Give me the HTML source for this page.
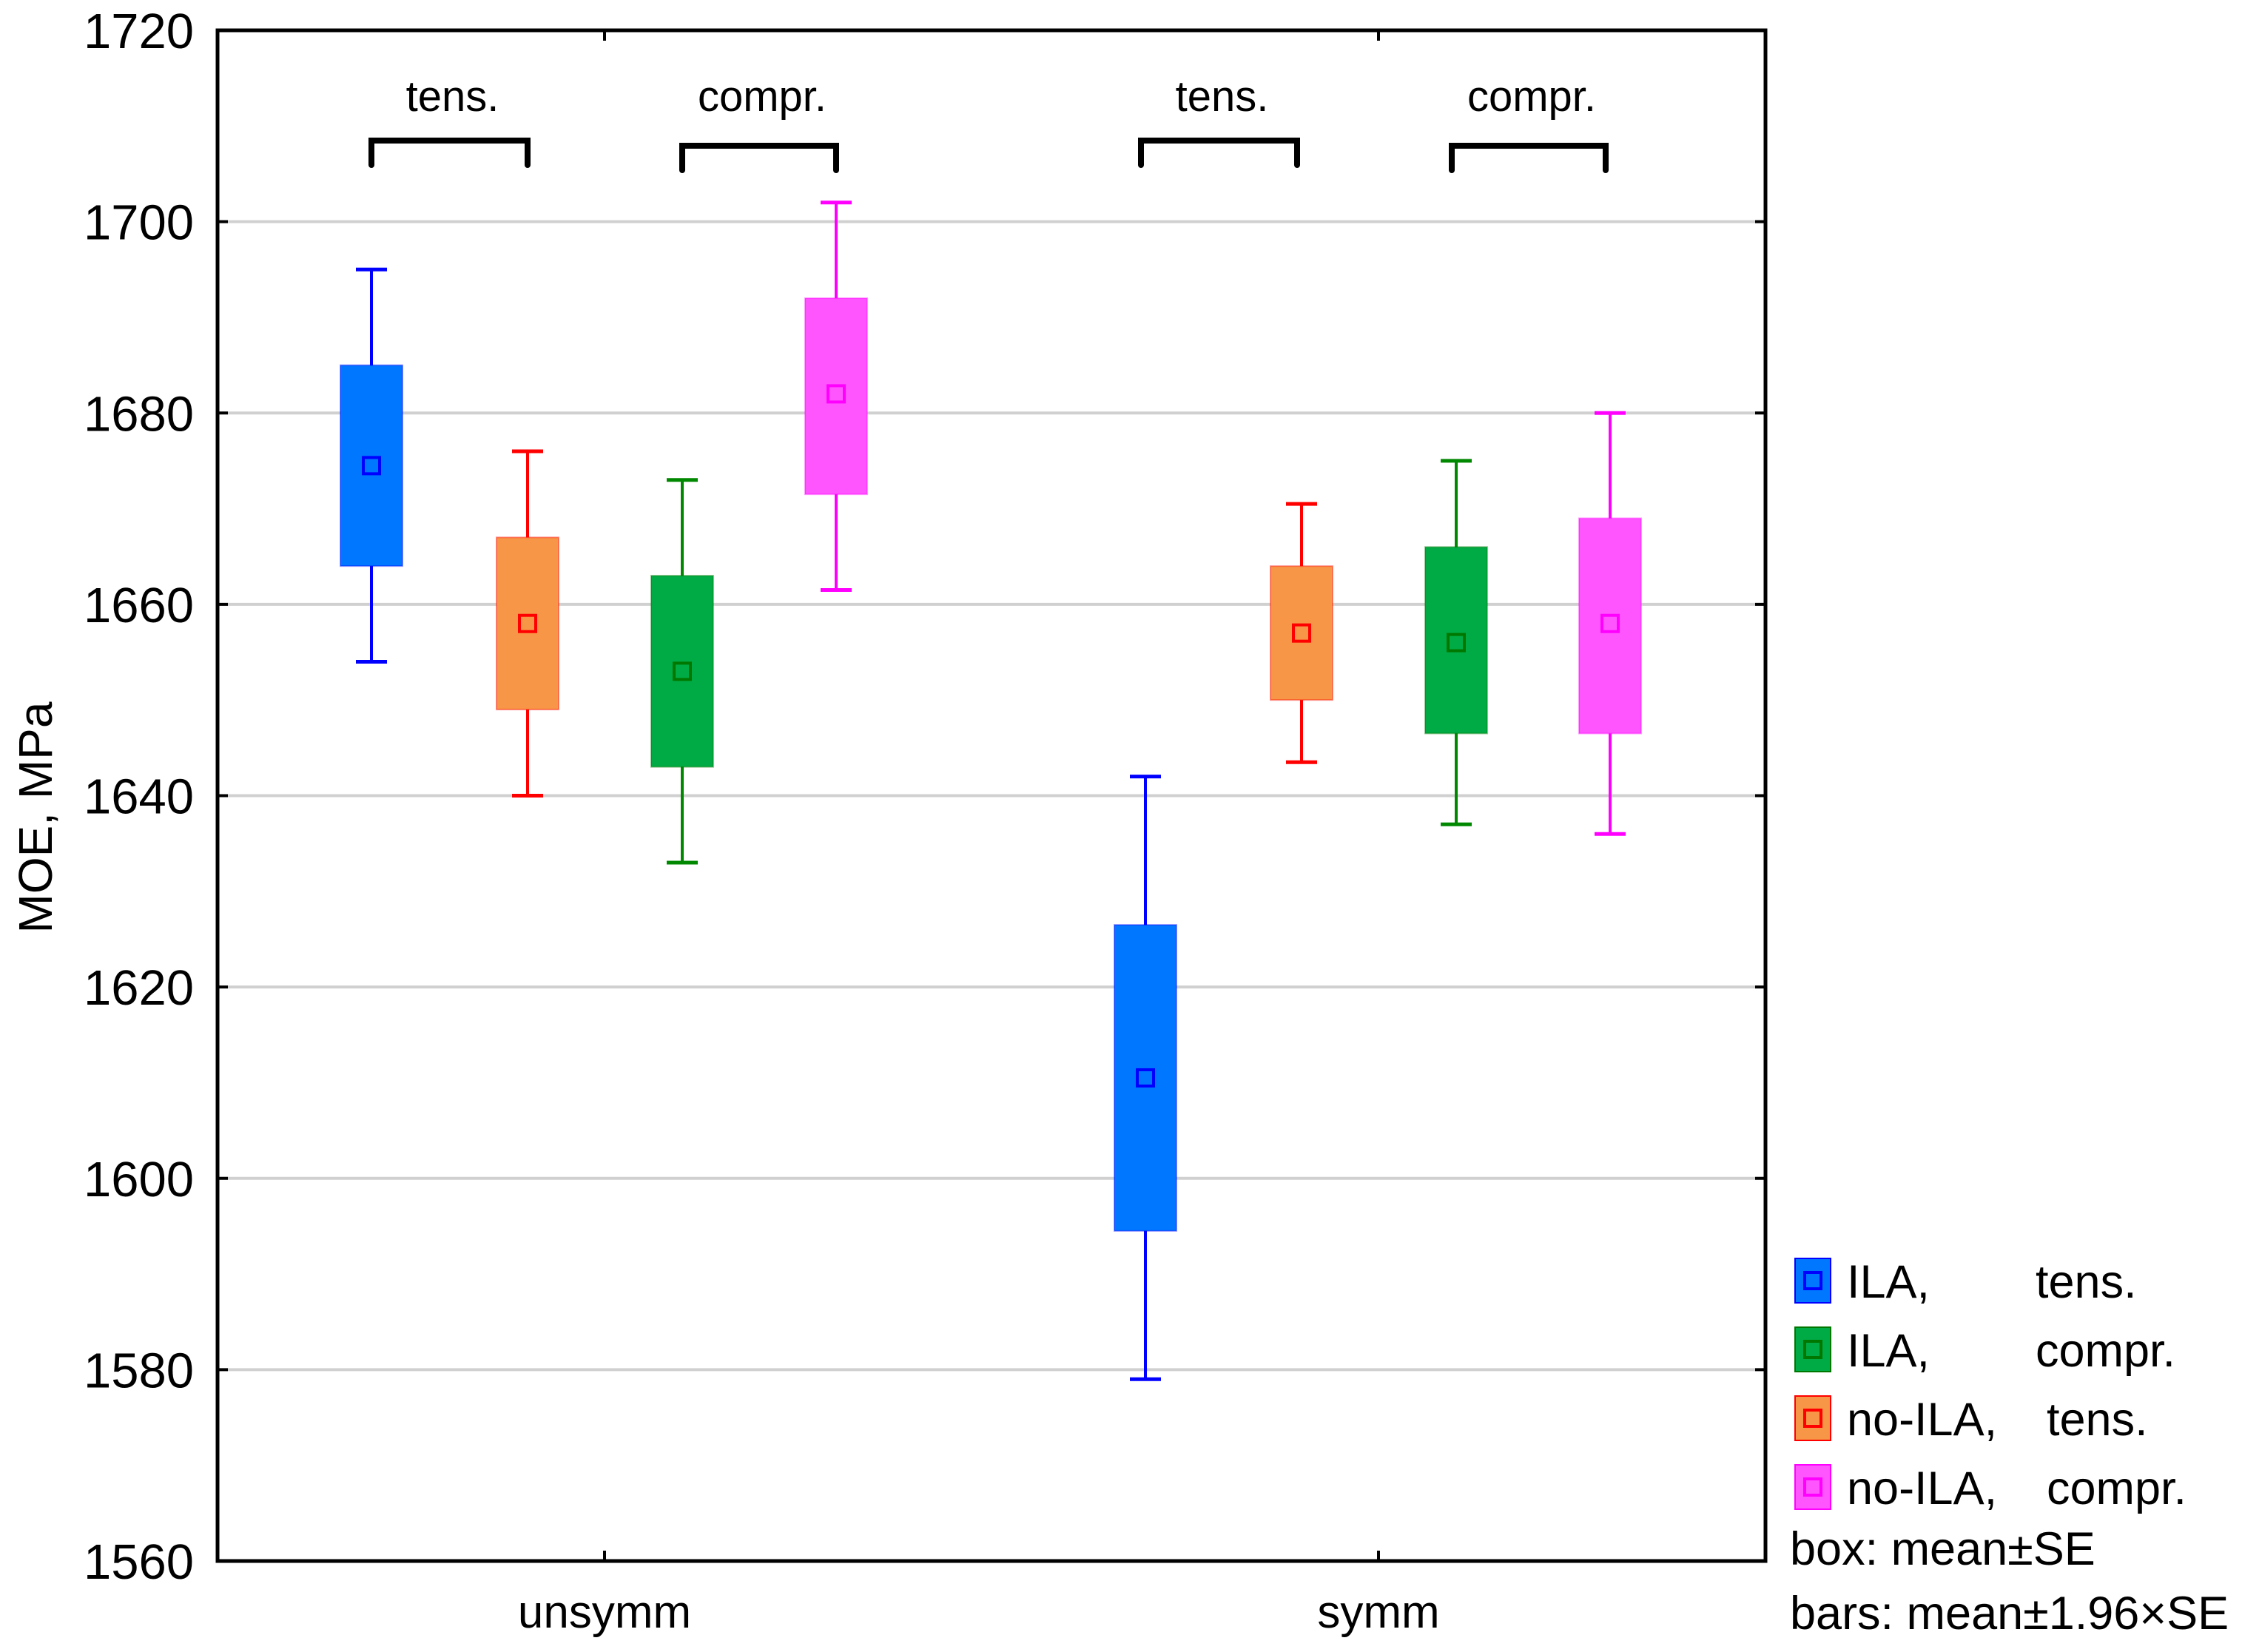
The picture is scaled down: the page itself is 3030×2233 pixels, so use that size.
<!DOCTYPE html>
<html><head><meta charset="utf-8"><style>
html,body{margin:0;padding:0;background:#fff;}
svg{display:block;font-family:"Liberation Sans",Arial,sans-serif;}
</style></head><body>
<svg id="chart" width="3030" height="2233" viewBox="0 0 3030 2233" xmlns="http://www.w3.org/2000/svg">
<g id="grid"></g>
<g id="marks"></g>
<g id="axes"></g>
<g id="legend"></g>
</svg>
<script>
const categories = ["unsymm", "symm"];
const seriesNames = ["ILA, tens.", "no-ILA, tens.", "ILA, compr.", "no-ILA, compr."];
const seriesColors = ["#0077ff", "#f79646", "#00aa44", "#ff55ff"];
const markerColors = ["#0000ff", "#ff0000", "#007700", "#ff00ff"];
const whiskerColors = ["#0000ff", "#ff0000", "#008800", "#ff00ff"];
const means   = [[1674.5, 1658, 1653, 1682], [1610.5, 1657, 1656, 1658]];
const boxLow  = [[1664, 1649, 1643, 1671.5], [1594.5, 1650, 1646.5, 1646.5]];
const boxHigh = [[1685, 1667, 1663, 1692], [1626.5, 1664, 1666, 1669]];
const barLow  = [[1654, 1640, 1633, 1661.5], [1579, 1643.5, 1637, 1636]];
const barHigh = [[1695, 1676, 1673, 1702], [1642, 1670.5, 1675, 1680]];
const yTicks = [1560, 1580, 1600, 1620, 1640, 1660, 1680, 1700, 1720];

const NS = "http://www.w3.org/2000/svg";
const L = 294, R = 2386, T = 41, B = 2110;
const yMin = 1560, yMax = 1720;
function y(v){ return B - (v - yMin) / (yMax - yMin) * (B - T); }
const catX = [817, 1863];
const offsets = [-315, -104, 105, 313];
function x(ci, si){ return catX[ci] + offsets[si]; }
function el(tag, attrs, parent){ const e = document.createElementNS(NS, tag); for (const k in attrs) e.setAttribute(k, attrs[k]); parent.appendChild(e); return e; }

const grid = document.getElementById("grid"), marks = document.getElementById("marks"), axes = document.getElementById("axes"), legend = document.getElementById("legend");

yTicks.forEach(t => {
  if (t !== yMin && t !== yMax) {
    const g = el("line", {x1:L, x2:R, y1:y(t), y2:y(t), stroke:"#d0d0d0", "stroke-width":4}, grid);
    
    
  }
  const tl = el("line", {x1:L, x2:L+14, y1:y(t), y2:y(t), stroke:"#000", "stroke-width":4}, axes);
  
  
  const tr = el("line", {x1:R-14, x2:R, y1:y(t), y2:y(t), stroke:"#000", "stroke-width":4}, axes);
  
  
  const lab = el("text", {x:262, y:y(t)+24, "text-anchor":"end", "font-size":67}, axes);
  lab.textContent = t;
  
  
});

const frame = el("rect", {x:L, y:T, width:R-L, height:B-T, fill:"none", stroke:"#000", "stroke-width":5}, axes);



const bracketShift = [0, -6];
categories.forEach((c, ci) => {
  const t1 = el("line", {x1:catX[ci], x2:catX[ci], y1:B-14, y2:B, stroke:"#000", "stroke-width":4}, axes);
  
  
  const t2 = el("line", {x1:catX[ci], x2:catX[ci], y1:T, y2:T+14, stroke:"#000", "stroke-width":4}, axes);
  
  
  const lab = el("text", {x:catX[ci], y:2200, "text-anchor":"middle", "font-size":62}, axes);
  lab.textContent = c;
  
  

  [[0,1,"tens.",190],[2,3,"compr.",197]].forEach(([a,b,txt,by]) => {
    const xa = x(ci,a)+bracketShift[ci], xb = x(ci,b)+bracketShift[ci];
    const br = el("path", {d:`M${xa},${by+33} V${by} H${xb} V${by+33}`, fill:"none", stroke:"#000", "stroke-width":8, "stroke-linecap":"round"}, axes);
    
    
    const bl = el("text", {x:(xa+xb)/2+4, y:150, "text-anchor":"middle", "font-size":58}, axes);
    bl.textContent = txt;
    
    
  });

  seriesNames.forEach((s, si) => {
    const cx = x(ci, si);
    const wk = el("line", {x1:cx, x2:cx, y1:y(barLow[ci][si]), y2:y(barHigh[ci][si]), stroke:whiskerColors[si], "stroke-width":4}, marks);
    
    
    [barLow[ci][si], barHigh[ci][si]].forEach(v => {
      const cap = el("line", {x1:cx-21, x2:cx+21, y1:y(v), y2:y(v), stroke:whiskerColors[si], "stroke-width":5}, marks);
      
      
    });
    const bx = el("rect", {x:cx-42, y:y(boxHigh[ci][si]), width:84, height:y(boxLow[ci][si])-y(boxHigh[ci][si]), fill:seriesColors[si], stroke:markerColors[si], "stroke-width":2, "stroke-opacity":0.4}, marks);
    
    
    const mk = el("rect", {x:cx-11, y:y(means[ci][si])-11, width:22, height:22, fill:"none", stroke:markerColors[si], "stroke-width":4}, marks);
    
    
  });
});

const yt = el("text", {x:0, y:0, "text-anchor":"middle", "font-size":64, transform:"translate(70,1105) rotate(-90)"}, axes);
yt.textContent = "MOE, MPa";



const legOrder = [0, 2, 1, 3];
const legA = ["ILA,", "ILA,", "no-ILA,", "no-ILA,"];
const legB = ["tens.", "compr.", "tens.", "compr."];
const legBx = [2751, 2751, 2766, 2766];
legOrder.forEach((si, i) => {
  const ry = 1731 + i * 93;
  const sw = el("rect", {x:2426, y:ry-30, width:48, height:60, fill:seriesColors[si], stroke:markerColors[si], "stroke-width":2}, legend);
  
  
  const mk = el("rect", {x:2439, y:ry-11, width:22, height:22, fill:"none", stroke:markerColors[si], "stroke-width":4}, legend);
  
  
  const ta = el("text", {x:2496, y:ry+23, "font-size":63}, legend);
  ta.textContent = legA[i];
  
  
  const tb = el("text", {x:legBx[i], y:ry+23, "font-size":63}, legend);
  tb.textContent = legB[i];
  
  
});
const n1 = el("text", {x:2419, y:2115, "font-size":63}, legend);
n1.textContent = "box: mean±SE";


const n2 = el("text", {x:2419, y:2202, "font-size":63}, legend);
n2.textContent = "bars: mean±1.96×SE";


</script>
</body></html>
